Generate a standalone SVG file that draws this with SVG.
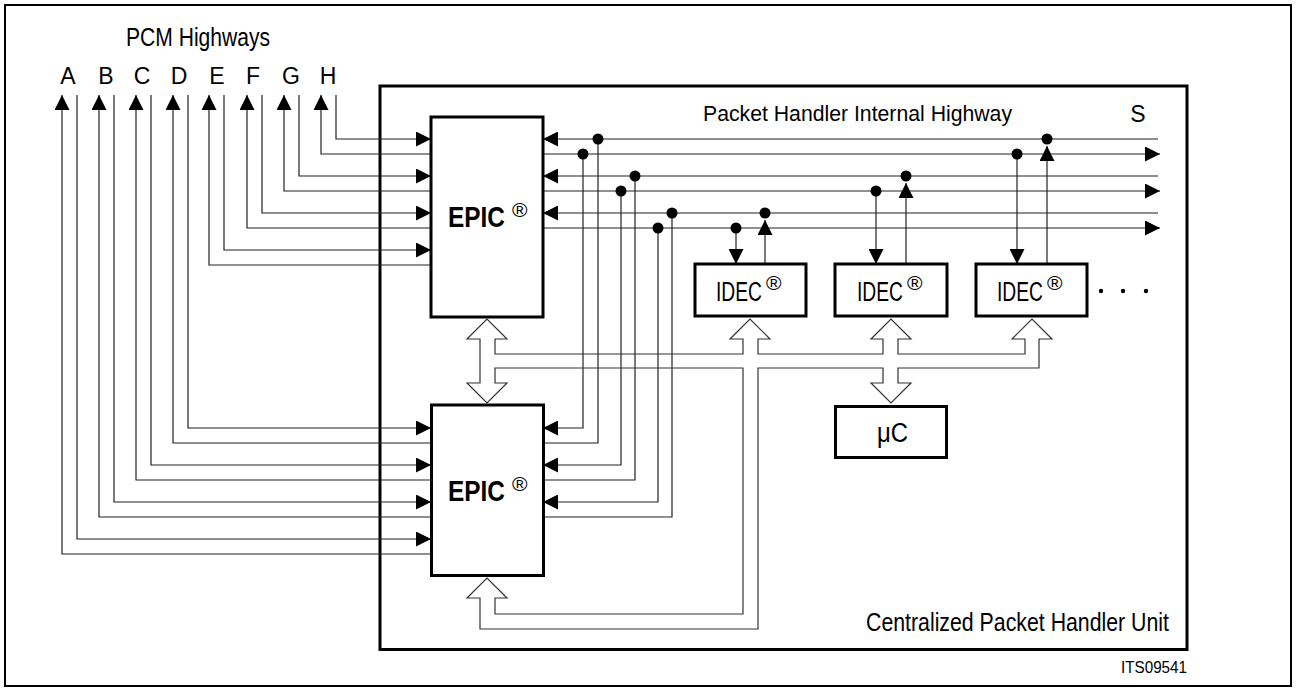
<svg xmlns="http://www.w3.org/2000/svg" width="1296" height="691" viewBox="0 0 1296 691">
<style>
text{font-family:"Liberation Sans",Arial,sans-serif;fill:#000}
.ln{fill:none;stroke:#222;stroke-width:1.2}
.arr{marker-end:url(#ah)}
.box{fill:#fff;stroke:#000;stroke-width:3}
.dot{fill:#000}
.bus{fill:none;stroke:#333;stroke-width:1.2;stroke-linejoin:miter}
.epic{font-size:29px;font-weight:bold}
.idec{font-size:28px}
.reg{font-size:21px;font-weight:normal}
</style>
<defs>
<marker id="ah" viewBox="0 0 15 15" markerWidth="15" markerHeight="15" refX="15" refY="7.5" orient="auto" markerUnits="userSpaceOnUse">
<path d="M0,0 L15,7.5 L0,15 Z" fill="#000"/>
</marker>
</defs>
<rect x="0" y="0" width="1296" height="691" fill="#fff"/>
<rect x="5" y="5" width="1286" height="681" fill="none" stroke="#000" stroke-width="2"/>

<g id="unit">
<rect x="380" y="86" width="807" height="563.5" fill="none" stroke="#000" stroke-width="3"/>
<text x="866" y="631" font-size="25" textLength="303" lengthAdjust="spacingAndGlyphs">Centralized Packet Handler Unit</text>
</g>

<g id="labels">
<text x="126" y="46" font-size="25" textLength="144" lengthAdjust="spacingAndGlyphs">PCM Highways</text>
<g font-size="23" text-anchor="middle">
<text x="68" y="83.5">A</text>
<text x="106" y="83.5">B</text>
<text x="142" y="83.5">C</text>
<text x="179" y="83.5">D</text>
<text x="217" y="83.5">E</text>
<text x="253" y="83.5">F</text>
<text x="291" y="83.5">G</text>
<text x="328" y="83.5">H</text>
</g>
<text x="703" y="121" font-size="22" textLength="309" lengthAdjust="spacingAndGlyphs">Packet Handler Internal Highway</text>
<text x="1138" y="122" font-size="23" text-anchor="middle">S</text>
<text x="1121" y="673" font-size="16" textLength="66" lengthAdjust="spacingAndGlyphs">ITS09541</text>
</g>

<g id="connectors">
<path class="ln arr" d="M336,95 V139 H431"/>
<path class="ln arr" d="M431,154 H321 V95"/>
<path class="ln arr" d="M299,95 V176 H431"/>
<path class="ln arr" d="M431,191 H284 V95"/>
<path class="ln arr" d="M262,95 V213 H431"/>
<path class="ln arr" d="M431,228 H247 V95"/>
<path class="ln arr" d="M224,95 V250 H431"/>
<path class="ln arr" d="M431,265 H209 V95"/>
<path class="ln arr" d="M188,95 V428 H431"/>
<path class="ln arr" d="M431,443 H173 V95"/>
<path class="ln arr" d="M151,95 V465 H431"/>
<path class="ln arr" d="M431,480 H136 V95"/>
<path class="ln arr" d="M114,95 V502 H431"/>
<path class="ln arr" d="M431,517 H99 V95"/>
<path class="ln arr" d="M77,95 V539 H431"/>
<path class="ln arr" d="M431,554 H62 V95"/>
<path class="ln arr" d="M1158,139 H543"/>
<path class="ln arr" d="M543,154 H1160"/>
<path class="ln arr" d="M1158,176 H543"/>
<path class="ln arr" d="M543,191 H1160"/>
<path class="ln arr" d="M1158,213 H543"/>
<path class="ln arr" d="M543,228 H1160"/>
<path class="ln arr" d="M583,154 V428 H543"/>
<path class="ln" d="M543,443 H598 V139"/>
<path class="ln arr" d="M621,191 V465 H543"/>
<path class="ln" d="M543,480 H635 V176"/>
<path class="ln arr" d="M658,228 V502 H543"/>
<path class="ln" d="M543,517 H672 V213"/>
<path class="ln arr" d="M736,228 V264"/>
<path class="ln arr" d="M765,264 V220"/>
<path class="ln arr" d="M876,191 V264"/>
<path class="ln arr" d="M906,264 V183"/>
<path class="ln arr" d="M1017,154 V264"/>
<path class="ln arr" d="M1047,264 V146"/>
<circle class="dot" cx="598" cy="139" r="5.5"/>
<circle class="dot" cx="583" cy="154" r="5.5"/>
<circle class="dot" cx="635" cy="176" r="5.5"/>
<circle class="dot" cx="621" cy="191" r="5.5"/>
<circle class="dot" cx="672" cy="213" r="5.5"/>
<circle class="dot" cx="658" cy="228" r="5.5"/>
<circle class="dot" cx="736" cy="228" r="5.5"/>
<circle class="dot" cx="765" cy="213" r="5.5"/>
<circle class="dot" cx="876" cy="191" r="5.5"/>
<circle class="dot" cx="906" cy="176" r="5.5"/>
<circle class="dot" cx="1017" cy="154" r="5.5"/>
<circle class="dot" cx="1047" cy="139" r="5.5"/>
<path class="bus" d="M495,354 H743 V339 H730 L750,319 L770,339 H758 V354 H883 V339 H871 L891,319 L911,339 H898 V354 H1025 V339 H1012 L1032,319 L1052,339 H1039 V368 H898 V383 H911 L891,403 L871,383 H883 V368 H758 V629 H480 V598 H467 L487,578 L507,598 H495 V614 H743 V368 H495 V383 H507 L487,403 L467,383 H480 V339 H467 L487,319 L507,339 H495 Z"/>
</g>

<g id="epic1">
<rect class="box" x="431" y="117" width="112" height="200"/>
<text class="epic" transform="translate(448,227) scale(0.842,1)">EPIC</text>
<text class="reg" x="512" y="217">®</text>
</g>
<g id="epic2">
<rect class="box" x="431.5" y="405" width="112" height="170.5"/>
<text class="epic" transform="translate(448,501) scale(0.842,1)">EPIC</text>
<text class="reg" x="512" y="491">®</text>
</g>
<g id="idec1">
<rect class="box" x="695" y="264" width="111" height="52"/>
<text class="idec" transform="translate(716,301) scale(0.688,1)">IDEC</text>
<text class="reg" x="766" y="290">®</text>
</g>
<g id="idec2">
<rect class="box" x="835" y="264" width="112" height="52"/>
<text class="idec" transform="translate(857,301) scale(0.688,1)">IDEC</text>
<text class="reg" x="907" y="290">®</text>
</g>
<g id="idec3">
<rect class="box" x="976" y="264" width="111" height="52"/>
<text class="idec" transform="translate(997,301) scale(0.688,1)">IDEC</text>
<text class="reg" x="1047" y="290">®</text>
</g>
<g id="more">
<circle class="dot" cx="1101" cy="291" r="2.2"/>
<circle class="dot" cx="1123" cy="291" r="2.2"/>
<circle class="dot" cx="1146" cy="291" r="2.2"/>
</g>
<g id="uc">
<rect class="box" x="835.5" y="406.5" width="111" height="51"/>
<text class="idec" transform="translate(877,442) scale(0.854,1)">μC</text>
</g>
</svg>
